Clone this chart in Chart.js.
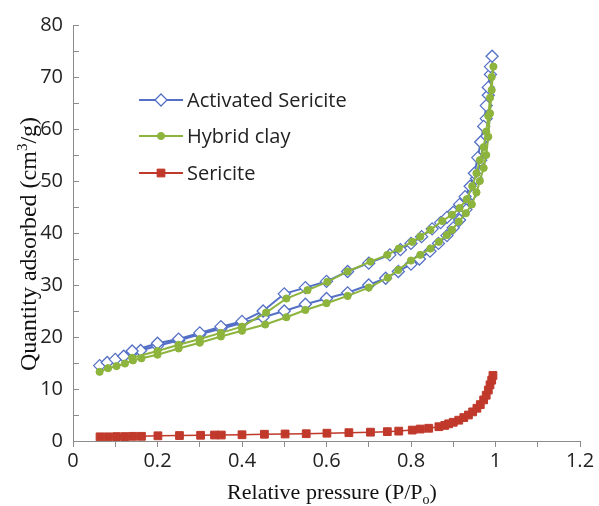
<!DOCTYPE html>
<html><head><meta charset="utf-8">
<script src="https://cdn.jsdelivr.net/npm/chart.js@4"></script>
<style>html,body{margin:0;padding:0;background:#fff}#wrap{width:599px;height:506px;position:relative}</style>
</head><body><div id="wrap"><canvas id="c" width="599" height="506"></canvas></div>
<script>
const seriesNames = ['Activated Sericite', 'Hybrid clay', 'Sericite'];
const xTickLabels = ['0', '0.2', '0.4', '0.6', '0.8', '1', '1.2'];
const yTickLabels = ['0', '10', '20', '30', '40', '50', '60', '70', '80'];

// Activated Sericite: adsorption branch followed by desorption branch
const activatedP = [0.063,0.081,0.100,0.120,0.140,0.160,0.200,0.250,0.300,0.350,0.400,0.450,0.500,0.550,0.600,0.650,0.700,0.740,0.770,0.800,0.820,0.845,0.865,0.885,0.900,0.915,0.930,0.945,0.955,0.965,0.972,0.978,0.983,0.988,0.992,
  0.988,0.983,0.978,0.972,0.965,0.958,0.950,0.940,0.928,0.915,0.900,0.885,0.870,0.850,0.825,0.800,0.775,0.750,0.700,0.650,0.600,0.550,0.500,0.450,0.400,0.350,0.300,0.250,0.200,0.140];
const activatedQ = [14.5,15.1,15.7,16.3,17.0,17.4,18.3,19.3,20.5,21.6,22.7,23.8,25.0,26.3,27.4,28.5,30.0,31.3,32.6,34.0,35.0,36.5,38.0,39.5,41.0,42.5,44.5,47.5,50.5,54.0,58.0,62.0,66.5,70.5,74.0,
  72.0,68.0,64.5,60.5,57.5,54.5,51.5,49.0,47.0,45.5,44.0,43.0,42.0,40.8,39.3,38.0,36.8,35.8,34.2,32.6,30.7,29.5,28.3,25.0,23.0,22.0,20.8,19.6,18.8,17.3];

// Hybrid clay: adsorption branch followed by desorption branch
const hybridP = [0.063,0.083,0.103,0.123,0.142,0.162,0.200,0.250,0.300,0.350,0.400,0.455,0.505,0.550,0.600,0.650,0.700,0.745,0.770,0.800,0.822,0.846,0.866,0.885,0.897,0.913,0.930,0.944,0.955,0.963,0.972,0.978,0.983,0.987,0.991,0.995,
  0.991,0.987,0.983,0.978,0.972,0.963,0.955,0.945,0.932,0.915,0.897,0.874,0.846,0.822,0.803,0.771,0.744,0.704,0.650,0.602,0.555,0.505,0.457,0.400,0.350,0.300,0.250,0.200,0.140];
const hybridQ = [13.3,14.0,14.4,14.9,15.5,15.9,16.6,17.8,18.9,20.1,21.2,22.4,23.8,25.2,26.5,27.9,29.5,31.4,32.9,34.7,35.8,37.0,38.3,39.6,40.6,42.2,43.8,45.5,47.8,50.0,52.5,55.0,58.5,63.0,67.5,72.0,
  70.0,66.0,62.5,59.5,56.5,54.0,51.5,49.0,46.5,44.8,43.5,42.3,40.6,39.3,38.3,37.0,35.8,34.5,32.6,30.6,29.0,27.4,24.7,22.0,20.8,19.6,18.5,17.3,16.0];

// Sericite
const sericiteP = [0.064,0.083,0.103,0.123,0.142,0.162,0.201,0.252,0.302,0.335,0.351,0.400,0.453,0.502,0.552,0.601,0.653,0.704,0.744,0.771,0.803,0.822,0.842,0.866,0.880,0.889,0.900,0.913,0.925,0.936,0.946,0.956,0.964,0.972,0.978,0.983,0.987,0.991,0.994];
const sericiteQ = [0.8,0.8,0.85,0.85,0.9,0.9,1.0,1.05,1.1,1.15,1.15,1.2,1.3,1.35,1.4,1.5,1.6,1.7,1.8,1.9,2.1,2.3,2.45,2.75,3.0,3.3,3.6,4.0,4.5,5.0,5.6,6.3,7.0,7.9,8.8,9.8,10.8,11.7,12.6];

const colors = ['#5470c6', '#8db43c', '#c0392b'];
const pts = (xs, ys) => xs.map((x, i) => ({x: x, y: ys[i]}));
const AXIS = '#8c8c8c';
const TICKFONT = '"Open Sans", "Liberation Sans", Arial, sans-serif';
const SERIF = '"Liberation Serif", "Times New Roman", serif';

const styles = [
  {pointStyle: 'rectRot', radius: 6, bg: '#ffffff', border: colors[0], lw: 2, pbw: 1.3},
  {pointStyle: 'circle', radius: 3.6, bg: colors[1], border: colors[1], lw: 2, pbw: 1},
  {pointStyle: 'rect', radius: 5.5, bg: colors[2], border: colors[2], lw: 1.5, pbw: 1}
];

const datasets = [pts(activatedP, activatedQ), pts(hybridP, hybridQ), pts(sericiteP, sericiteQ)].map((d, i) => ({
  label: seriesNames[i], data: d, showLine: true, tension: 0,
  borderColor: styles[i].border, borderWidth: styles[i].lw,
  pointStyle: styles[i].pointStyle, pointRadius: styles[i].radius,
  pointBackgroundColor: styles[i].bg, pointBorderColor: styles[i].border, pointBorderWidth: styles[i].pbw,
  order: 3 - i
}));

const extras = {
  id: 'extras',
  afterDraw(chart) {
    const ctx = chart.ctx, ca = chart.chartArea, ys = chart.scales.y;
    ctx.save();
    ctx.strokeStyle = AXIS; ctx.lineWidth = 1;
    for (let v = 0; v <= 80; v += 5) {
      const y = Math.round(ys.getPixelForValue(v)) + 0.5;
      ctx.beginPath(); ctx.moveTo(ca.left, y); ctx.lineTo(ca.left + 6, y); ctx.stroke();
    }
    ctx.fillStyle = '#111';
    ctx.textBaseline = 'alphabetic';
    // y title
    ctx.save();
    ctx.translate(36, 244);
    ctx.rotate(-Math.PI / 2);
    const bigY = '24px ' + SERIF, smallY = '15px ' + SERIF;
    const yParts = [['Quantity adsorbed (cm', bigY, 0], ['3', smallY, -9], ['/g)', bigY, 0]];
    let w = 0; yParts.forEach(p => { ctx.font = p[1]; w += ctx.measureText(p[0]).width; });
    let x = -w / 2;
    yParts.forEach(p => { ctx.font = p[1]; ctx.fillText(p[0], x, p[2]); x += ctx.measureText(p[0]).width; });
    ctx.restore();
    // x title
    const bigX = '22px ' + SERIF, smallX = '14px ' + SERIF;
    const xParts = [['Relative pressure (P/P', bigX, 0], ['o', smallX, 5], [')', bigX, 0]];
    w = 0; xParts.forEach(p => { ctx.font = p[1]; w += ctx.measureText(p[0]).width; });
    x = 332 - w / 2;
    xParts.forEach(p => { ctx.font = p[1]; ctx.fillText(p[0], x, 499 + p[2]); x += ctx.measureText(p[0]).width; });
    // legend
    const ly = [100, 136, 173];
    datasets.forEach((d, i) => {
      const y = ly[i];
      ctx.strokeStyle = d.borderColor; ctx.lineWidth = 2;
      ctx.beginPath(); ctx.moveTo(139, y); ctx.lineTo(183, y); ctx.stroke();
      ctx.fillStyle = d.pointBackgroundColor; ctx.strokeStyle = d.pointBorderColor; ctx.lineWidth = d.pointBorderWidth;
      Chart.helpers.drawPoint(ctx, {pointStyle: d.pointStyle, radius: d.pointRadius, borderWidth: d.pointBorderWidth}, 161, y);
      ctx.fillStyle = '#222';
      ctx.font = '20px ' + TICKFONT;
      ctx.textBaseline = 'middle';
      ctx.fillText(d.label, 187, y + 1);
    });
    ctx.restore();
  }
};

new Chart(document.getElementById('c'), {
  type: 'scatter',
  data: {datasets: datasets},
  options: {
    responsive: false, animation: false, devicePixelRatio: 1,
    layout: {padding: {top: 25, right: 19, left: 0, bottom: 0}},
    plugins: {legend: {display: false}, tooltip: {enabled: false}},
    scales: {
      x: {
        type: 'linear', min: 0, max: 1.2,
        afterFit(s) { s.height = 65; },
        ticks: {stepSize: 0.1, autoSkip: false, maxRotation: 0, color: '#222', padding: 2,
          font: {family: TICKFONT, size: 20},
          callback: (v) => { const k = Math.round(v * 10); return k % 2 === 0 ? xTickLabels[k / 2] : ''; }},
        grid: {display: true, drawOnChartArea: false, drawTicks: true, tickLength: 6, color: AXIS, tickColor: AXIS},
        border: {display: true, color: AXIS, width: 1}
      },
      y: {
        type: 'linear', min: 0, max: 80,
        afterFit(s) { s.width = 73; },
        ticks: {stepSize: 5, autoSkip: false, color: '#222', padding: 10,
          font: {family: TICKFONT, size: 20},
          callback: (v) => (v % 10 === 0 ? yTickLabels[v / 10] : '')},
        grid: {display: true, drawOnChartArea: false, drawTicks: false, color: AXIS},
        border: {display: true, color: AXIS, width: 1}
      }
    }
  },
  plugins: [extras]
});
</script></body></html>
